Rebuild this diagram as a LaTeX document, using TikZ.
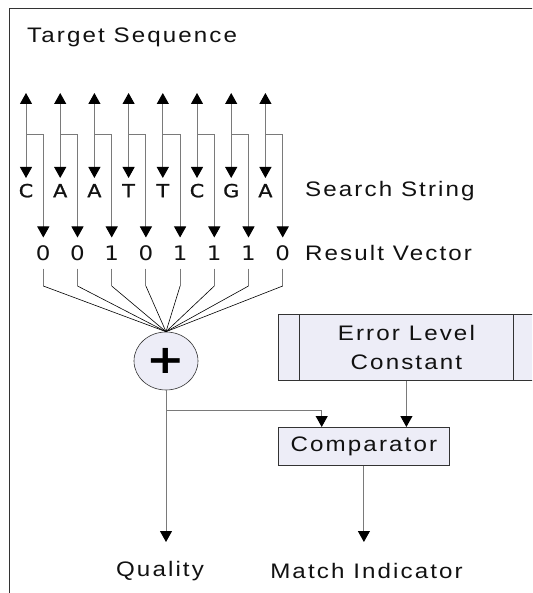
\documentclass[tikz,border=0pt]{standalone}
\usepackage{fontspec}
\setmainfont{Liberation Sans}[FakeStretch=1.15,LetterSpace=10]
\newfontfamily\dvfont{DejaVu Sans}[FakeStretch=1.15]
\newfontfamily\dvboldish{DejaVu Sans}[FakeStretch=1.15,FakeBold=1.2]
\usetikzlibrary{arrows.meta,calc,shapes.geometric}
\definecolor{boxfill}{HTML}{EDEDF7}
\definecolor{wirec}{HTML}{7A7A7A}
\definecolor{ink}{HTML}{111111}
\begin{document}
\begin{tikzpicture}[x=1pt,y=-1pt,
  arr/.style={-{Triangle[width=12pt,length=11pt,color=black]}},
  darr/.style={{Triangle[width=12pt,length=11pt,color=black]}-{Triangle[width=12pt,length=11pt,color=black]}},
  wire/.style={draw=wirec, line width=1pt},
  lbl/.style={font=\fontsize{21}{24}\selectfont, text=ink, inner sep=0pt},
  basech/.style={font=\dvboldish\fontsize{18}{20}\selectfont, text=ink, inner xsep=0pt, inner ysep=6pt, text height=13pt, text depth=0pt},
  bitch/.style={font=\dvfont\fontsize{20}{22}\selectfont, text=ink, inner xsep=0pt, inner ysep=8pt, text height=14.6pt, text depth=0pt},
  blk/.style={draw=black!80, fill=boxfill, line width=0.8pt}]
\useasboundingbox (0,0) rectangle (532,593);
\clip (0,0) rectangle (532,593);
% frame
\draw[black!80, line width=0.8pt] (9,600) -- (9,8.5) -- (545,8.5);
\node[lbl, anchor=base west] (ts) at (27,42.3) {Target Sequence};
% adder
\node[draw=black!80, fill=boxfill, ellipse, minimum width=64pt, minimum height=58pt, inner sep=0pt, line width=0.6pt, font=\dvfont\bfseries\fontsize{40}{40}\selectfont] (sum) at (166,361) {+};
% columns
\foreach \b/\d [count=\i] in {C/0,A/0,A/1,T/0,T/1,C/1,G/1,A/0} {
  \pgfmathsetmacro\xa{26+34.2*(\i-1)}
  \pgfmathsetmacro\xb{\xa+17.3}
  \node[basech, anchor=north] (L\i) at (\xa,178) {\b};
  \node[bitch, anchor=north] (D\i) at (\xb,237.5) {\d};
  \coordinate (T\i) at (\xa,93);
  \coordinate (S\i) at (\xa,135);
  \coordinate (V\i) at (\xb,286);
  \draw[wire,darr] (T\i) -- (L\i.north);
  \draw[wire,arr] (S\i) -| (D\i.north);
  \draw[wire] (D\i.south) -- (V\i);
  \draw[black, line width=0.6pt] (V\i) -- (sum.north);
}
\node[lbl, anchor=base west] (ss) at (305,197) {Search String};
\node[lbl, anchor=base west] (rv) at (305,260.7) {Result Vector};
% error level constant
\node[blk, minimum width=256pt, minimum height=66pt, anchor=north west, align=center, font=\fontsize{21}{28.6}\selectfont, text=ink] (elc) at (278,314) {Error Level\\Constant};
\draw[black!80, line width=0.8pt] ($(elc.north west)+(21,0)$) -- ($(elc.south west)+(21,0)$);
\draw[black!80, line width=0.8pt] ($(elc.north east)+(-21,0)$) -- ($(elc.south east)+(-21,0)$);
% comparator
\node[blk, minimum width=171pt, minimum height=38pt, anchor=north west, font=\fontsize{21}{24}\selectfont, text=ink] (cmp) at (278,427) {Comparator};
% outputs
\node[lbl] (q) at (160,571) {Quality};
\node[lbl] (mi) at (366.5,571) {Match Indicator};
\coordinate (qa) at (166,542);
\coordinate (br) at (166,410);
\coordinate (cin) at (321.7,427);
\draw[wire,arr] (sum.south) -- (qa);
\draw[wire,arr] (br) -| (cin);
\draw[wire,arr] (elc.south) -- (elc.south |- cmp.north);
\draw[wire,arr] (cmp.south) -- (cmp.south |- qa);
\end{tikzpicture}
\end{document}
